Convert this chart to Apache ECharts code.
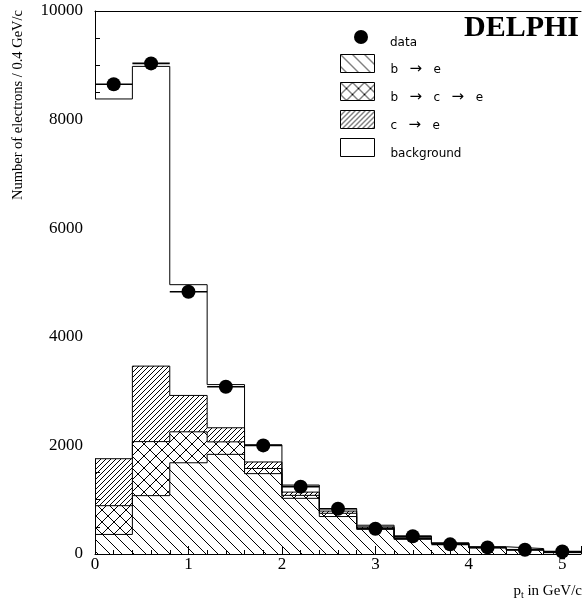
<!DOCTYPE html>
<html>
<head>
<meta charset="utf-8">
<script src="https://cdn.jsdelivr.net/npm/echarts@6/dist/echarts.min.js"></script>
<style>
  html, body { margin: 0; padding: 0; background: #fff; }
  #chart { width: 584px; height: 606px; }
</style>
</head>
<body>
<div id="chart"></div>
<script>
// bins of 0.4 GeV/c, left edges
var binLeft = [0, 0.4, 0.8, 1.2, 1.6, 2.0, 2.4, 2.8, 3.2, 3.6, 4.0, 4.4, 4.8];
var binWidth = 0.4;
// monte carlo contributions per bin (stacked bottom to top)
var bToE = [360, 1075, 1680, 1835, 1480, 1025, 690, 455, 270, 185, 112, 72, 25];
var bToCToE = [530, 995, 570, 230, 95, 55, 60, 25, 15, 7, 6, 6, 3];
var cToE = [865, 1390, 670, 260, 120, 60, 40, 20, 15, 6, 6, 6, 4];
var background = [6625, 5520, 2040, 795, 315, 130, 45, 30, 30, 8, 9, 16, 9];
// measured electrons
var dataCounts = [8650, 9035, 4830, 3080, 2000, 1240, 833, 464, 328, 178, 122, 77, 46];
var yTicks = [0, 2000, 4000, 6000, 8000, 10000];
var xTicks = [0, 1, 2, 3, 4, 5];

function hatch(size, dirs, lw) {
    var c = document.createElement('canvas');
    c.width = size; c.height = size;
    var g = c.getContext('2d');
    g.strokeStyle = '#000';
    g.lineWidth = lw;
    dirs.forEach(function (d) {
        for (var k = -1; k <= 1; k++) {
            g.beginPath();
            if (d === 'back') {
                g.moveTo(k * size, 0); g.lineTo(k * size + size, size);
            } else {
                g.moveTo(k * size, size); g.lineTo(k * size + size, 0);
            }
            g.stroke();
        }
    });
    return { image: c, repeat: 'repeat' };
}

var patB = hatch(12, ['back'], 1);
var patBC = hatch(12, ['back', 'fwd'], 1);
var patC = hatch(5, ['fwd'], 1);

// step points at bin edges, last value repeated at the right edge.
// value goes first so the stack is done on y (encode swaps it back)
function stepData(vals) {
    var pts = vals.map(function (v, i) { return [v, binLeft[i]]; });
    pts.push([vals[vals.length - 1], binLeft[binLeft.length - 1] + binWidth]);
    return pts;
}

function layer(name, vals, fill) {
    return {
        name: name,
        type: 'line',
        stack: 'mc',
        step: 'end',
        symbol: 'none',
        encode: { x: 1, y: 0 },
        data: stepData(vals),
        lineStyle: { color: '#000', width: 1 },
        itemStyle: { color: '#000' },
        areaStyle: { color: fill, opacity: 1 },
        z: 2
    };
}

var serif = 'Liberation Serif';
var sans = 'DejaVu Sans';

var legendText = {
    fontFamily: sans, fontSize: 12, color: '#000',
    rich: { ar: { fontFamily: sans, fontSize: 15, color: '#000' } }
};

var chart = echarts.init(document.getElementById('chart'));
chart.setOption({
    animation: false,
    backgroundColor: '#fff',
    title: {
        text: 'DELPHI', right: 0, top: 8,
        textStyle: { fontFamily: serif, fontWeight: 'bold', fontSize: 30, color: '#000' }
    },
    legend: [{
        orient: 'vertical', left: 349, top: 25,
        itemWidth: 14, itemHeight: 14,
        data: [{ name: 'data', icon: 'circle', itemStyle: { color: '#000' } }],
        textStyle: Object.assign({ padding: [12, 0, 0, 17] }, legendText)
    }, {
        orient: 'vertical', left: 335, top: 49,
        itemWidth: 34, itemHeight: 18, itemGap: 5,
        data: [
            { name: 'b → e', icon: 'rect', itemStyle: { color: patB, borderColor: '#000', borderWidth: 1 } },
            { name: 'b → c → e', icon: 'rect', itemStyle: { color: patBC, borderColor: '#000', borderWidth: 1 } },
            { name: 'c → e', icon: 'rect', itemStyle: { color: patC, borderColor: '#000', borderWidth: 1 } },
            { name: 'background', icon: 'rect', itemStyle: { color: '#fff', borderColor: '#000', borderWidth: 1 } }
        ],
        formatter: function (name) { return name.replace(/ → /g, '   {ar|→}   '); },
        textStyle: Object.assign({ padding: [12, 0, 0, 11] }, legendText)
    }],
    grid: { left: 95, right: 0, top: 11, bottom: 52 },
    xAxis: [{
        type: 'value', min: 0, max: 5.2, interval: 1,
        axisLine: { show: true, lineStyle: { color: '#000', width: 1 } },
        axisTick: { show: true, inside: true, length: 8, lineStyle: { color: '#000' } },
        minorTick: { show: true, splitNumber: 5, length: 4, lineStyle: { color: '#000' } },
        splitLine: { show: false },
        axisLabel: {
            margin: 2, fontFamily: serif, fontSize: 17, color: '#000',
            formatter: function (v) { return xTicks.indexOf(v) >= 0 ? String(v) : ''; }
        }
    }, {
        type: 'value', position: 'top', min: 0, max: 5.2,
        axisLine: { show: true, onZero: false, lineStyle: { color: '#000', width: 1 } },
        axisTick: { show: false }, axisLabel: { show: false }, splitLine: { show: false }
    }],
    yAxis: {
        type: 'value', min: 0, max: 10000, interval: 2000,
        axisLine: { show: true, lineStyle: { color: '#000', width: 1 } },
        axisTick: { show: true, inside: true, length: 8, lineStyle: { color: '#000' } },
        minorTick: { show: true, splitNumber: 4, length: 5, lineStyle: { color: '#000' } },
        splitLine: { show: false },
        axisLabel: {
            margin: 12, fontFamily: serif, fontSize: 17, color: '#000',
            formatter: function (v) { return yTicks.indexOf(v) >= 0 ? String(v) : ''; }
        }
    },
    graphic: [{
        type: 'text', x: 18, y: 105, rotation: Math.PI / 2,
        style: {
            text: 'Number of electrons / 0.4 GeV/c', fontFamily: serif, fontSize: 14.5,
            fill: '#000', textAlign: 'center', textVerticalAlign: 'middle'
        }
    }, {
        type: 'text', right: 2, top: 584,
        style: {
            text: '{a|p}{s|t}{a| in GeV/c}', fill: '#000',
            rich: {
                a: { fontFamily: serif, fontSize: 15, fill: '#000' },
                s: { fontFamily: serif, fontSize: 10, fill: '#000', padding: [8, 0, 0, 0] }
            }
        }
    }],
    series: [
        layer('b → e', bToE, patB),
        layer('b → c → e', bToCToE, patBC),
        layer('c → e', cToE, patC),
        layer('background', background, '#fff'),
        {
            name: 'data-bars',
            type: 'custom',
            data: dataCounts.map(function (v, i) { return [binLeft[i], binLeft[i] + binWidth, v]; }),
            renderItem: function (params, api) {
                var a = api.coord([api.value(0), api.value(2)]);
                var b = api.coord([api.value(1), api.value(2)]);
                return {
                    type: 'line',
                    shape: { x1: a[0], y1: a[1], x2: b[0], y2: b[1] },
                    style: { stroke: '#000', lineWidth: 1.6 }
                };
            },
            z: 4
        },
        {
            name: 'data',
            type: 'scatter',
            symbol: 'circle',
            symbolSize: 14,
            itemStyle: { color: '#000', opacity: 1 },
            data: dataCounts.map(function (v, i) { return [binLeft[i] + binWidth / 2, v]; }),
            z: 5
        }
    ]
});
</script>
</body>
</html>
